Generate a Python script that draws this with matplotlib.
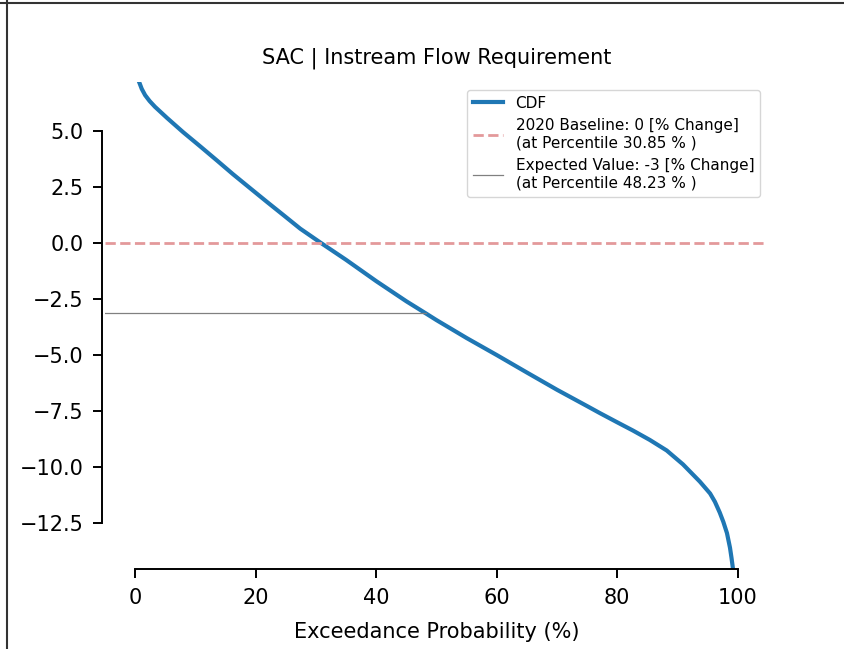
import numpy as np
import matplotlib
matplotlib.use("Agg")
import matplotlib.pyplot as plt
from matplotlib.lines import Line2D


# exceedance curve (percent, % change)
exceed_pct = [0.66, 1.1, 1.66, 2.4, 3.3, 5.31, 7.96, 10.78, 13.6, 16.25,
              19.07, 21.9, 24.5, 27.4, 30.85, 35.0, 40.0, 45.0, 48.23, 50.0,
              55.0, 60.0, 65.0, 70.0, 75.0, 77.1, 79.9, 82.6, 85.4, 88.2,
              90.9, 93.7, 95.4, 96.2, 97.0, 97.6, 98.2, 98.7, 98.95, 99.2]
change_pct = [7.19, 6.88, 6.60, 6.34, 6.08, 5.58, 4.95, 4.32, 3.68, 3.07,
              2.45, 1.83, 1.27, 0.64, 0.0, -0.75, -1.70, -2.60, -3.14, -3.44,
              -4.24, -5.0, -5.78, -6.55, -7.28, -7.59, -7.99, -8.37, -8.79, -9.26,
              -9.88, -10.65, -11.18, -11.55, -12.03, -12.45, -12.95, -13.60, -14.05, -14.55]

baseline_value = 0
baseline_pct = 30.85
expected_value = -3.14
expected_pct = 48.23

title = "SAC | Instream Flow Requirement"
xlabel = "Exceedance Probability (%)"
xticks = [0, 20, 40, 60, 80, 100]
yticks = [5.0, 2.5, 0.0, -2.5, -5.0, -7.5, -10.0, -12.5]


def plot_cdf(out_png):
    fig = plt.figure(figsize=(8.44, 6.49), dpi=100)
    ax = fig.add_axes([0.1244, 0.1233, 0.7855, 0.7504])

    ax.plot(exceed_pct, change_pct, color="#1f77b4", lw=3, label="CDF",
            solid_joinstyle="round")
    ax.axhline(baseline_value, color="#e3999b", ls="--", lw=2,
               label="2020 Baseline: %d [%% Change]\n(at Percentile %.2f %% )"
               % (baseline_value, baseline_pct))
    ax.plot([-5, expected_pct], [expected_value, expected_value], color="gray", lw=0.9,
            label="Expected Value: %d [%% Change]\n(at Percentile %.2f %% )"
            % (round(expected_value), expected_pct))

    ax.set_xlim(-5, 105)
    ax.set_ylim(-14.55, 7.19)
    ax.set_xticks(xticks)
    ax.set_yticks(yticks)
    ax.tick_params(labelsize=15, length=6.5, width=1.4, pad=7)

    # trimmed spines like sns.despine(trim=True)
    ax.spines["top"].set_visible(False)
    ax.spines["right"].set_visible(False)
    ax.spines["left"].set_linewidth(1.4)
    ax.spines["bottom"].set_linewidth(1.4)
    ax.spines["left"].set_position(("outward", 2))
    ax.spines["left"].set_bounds(yticks[-1], yticks[0])
    ax.spines["bottom"].set_bounds(xticks[0], xticks[-1])

    ax.set_title(title, fontsize=15, pad=13)
    ax.set_xlabel(xlabel, fontsize=15, labelpad=10)
    ax.legend(loc="upper right", fontsize=11)

    # frame of the screenshot (top and left edges)
    fig.add_artist(Line2D([0, 1], [0.995, 0.995], color="#333333", lw=1.5))
    fig.add_artist(Line2D([0.008, 0.008], [0, 1], color="#333333", lw=1.5))

    fig.savefig(out_png, dpi=100)
    print(out_png + " saved")


if __name__ == '__main__':
    plot_cdf("out.png")
